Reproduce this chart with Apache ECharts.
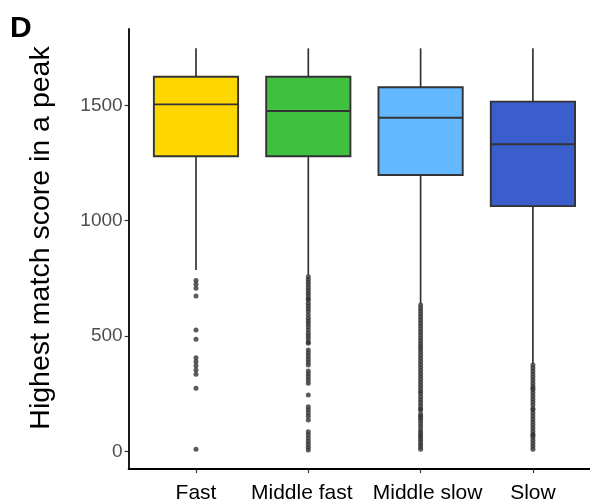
<!DOCTYPE html>
<html>
<head>
<meta charset="utf-8">
<script src="https://cdn.jsdelivr.net/npm/echarts@6/dist/echarts.min.js"></script>
<style>
  html, body { margin: 0; padding: 0; background: #fff; }
  #chart { width: 590px; height: 504px; }
</style>
</head>
<body>
<div id="chart"></div>
<script>
// ---- data ----
const categories = ['Fast', 'Middle fast', 'Middle slow', 'Slow'];
const boxColors = ['#FFD700', '#3FC13F', '#63B8FF', '#3A5FCD'];
// [min whisker, Q1, median, Q3, max whisker]
const fastStats = [786, 1279, 1504, 1624, 1747];
const middleFastStats = [764, 1279, 1475, 1624, 1747];
const middleSlowStats = [641, 1198, 1446, 1578, 1747];
const slowStats = [381, 1063, 1331, 1516, 1747];

const fastOutliers = [740, 724, 707, 673, 526, 486, 406, 388, 371, 352, 334, 273, 9];
const middleFastOutliers = [757, 745, 733, 721, 709, 697, 685, 673, 661, 656, 642, 630, 618, 606, 591,
  577, 565, 553, 540, 526, 512, 500, 488, 474, 468, 439, 426, 413, 400, 387, 374,
  348, 335, 322, 309, 295, 244, 193, 180, 166, 152, 136, 85, 72, 58, 44, 31, 18, 6];
const middleSlowOutliers = [634, 621, 608, 595, 582, 569, 556, 543, 530, 517, 504, 491, 478, 465, 453,
  442, 429, 416, 403, 390, 377, 364, 351, 338, 325, 312, 299, 286, 273, 260, 251,
  237, 224, 211, 198, 185, 179, 162, 152, 143, 133, 120, 106, 92, 81, 72, 63, 53, 42, 31, 20, 9];
const slowOutliers = [374, 361, 348, 335, 322, 309, 296, 283, 273, 266, 253, 240, 227, 214, 201, 186,
  179, 166, 153, 140, 127, 114, 101, 88, 75, 71, 61, 48, 35, 22, 9];

const yTicks = [0, 500, 1000, 1500];
const xTicks = [1, 2, 3, 4];

// ---- build ----
const allStats = [fastStats, middleFastStats, middleSlowStats, slowStats];
const allOutliers = [fastOutliers, middleFastOutliers, middleSlowOutliers, slowOutliers];
const boxData = allStats.map((s, i) => [i + 1].concat(s));
const outlierData = [];
allOutliers.forEach((arr, i) => arr.forEach(v => outlierData.push([i + 1, v])));

const FONT = 'Liberation Sans, Arial, Helvetica, sans-serif';
const BOX_W = 0.75;
const EDGE = '#333333';
// per-label rich style keys (label nudges as in the reference)
const labelStyleKeys = ['c', 'l', 'r', 'c'];

function renderBox(params, api) {
  const x = api.value(0);
  const pMin = api.coord([x, api.value(1)]);
  const pQ1 = api.coord([x, api.value(2)]);
  const pMed = api.coord([x, api.value(3)]);
  const pQ3 = api.coord([x, api.value(4)]);
  const pMax = api.coord([x, api.value(5)]);
  const hw = api.size([BOX_W, 0])[0] / 2;
  const lineStyle = { stroke: EDGE, lineWidth: 1.7 };
  return {
    type: 'group',
    children: [
      { type: 'line', shape: { x1: pMin[0], y1: pMin[1], x2: pQ1[0], y2: pQ1[1] }, style: lineStyle },
      { type: 'line', shape: { x1: pQ3[0], y1: pQ3[1], x2: pMax[0], y2: pMax[1] }, style: lineStyle },
      { type: 'rect', shape: { x: pQ3[0] - hw, y: pQ3[1], width: hw * 2, height: pQ1[1] - pQ3[1] },
        style: { fill: boxColors[params.dataIndex], stroke: EDGE, lineWidth: 1.9 } },
      { type: 'line', shape: { x1: pMed[0] - hw, y1: pMed[1], x2: pMed[0] + hw, y2: pMed[1] }, style: { stroke: EDGE, lineWidth: 1.9 } }
    ]
  };
}

const labelBase = { color: '#000', fontFamily: FONT, fontSize: 21 };
const chart = echarts.init(document.getElementById('chart'), null, { renderer: 'canvas' });
chart.setOption({
  animation: false,
  backgroundColor: '#ffffff',
  title: {
    text: 'D', left: 5, top: 9,
    textStyle: { fontFamily: FONT, fontSize: 30, fontWeight: 'bold', color: '#000' }
  },
  grid: { left: 128.6, top: 29, width: 471.7, height: 440, outerBoundsMode: 'none', containLabel: false },
  xAxis: {
    type: 'value', min: 0.4, max: 4.6,
    splitLine: { show: false },
    axisLine: { show: true, onZero: false, lineStyle: { color: '#000', width: 1.8 } },
    axisTick: { show: true, customValues: xTicks, length: 4, lineStyle: { color: '#333', width: 1.2 } },
    axisLabel: {
      customValues: xTicks, margin: 14, color: '#000', fontFamily: FONT, fontSize: 21,
      formatter: v => {
        const i = Math.round(v) - 1;
        return categories[i] ? '{' + labelStyleKeys[i] + '|' + categories[i] + '}' : '';
      },
      rich: {
        c: Object.assign({}, labelBase),
        l: Object.assign({ padding: [0, 13, 0, 0] }, labelBase),
        r: Object.assign({ padding: [0, 0, 0, 14] }, labelBase)
      }
    }
  },
  yAxis: {
    type: 'value', min: -76.7, max: 1830.8,
    splitLine: { show: false },
    axisLine: { show: true, onZero: false, lineStyle: { color: '#000', width: 1.8 } },
    axisTick: { show: true, customValues: yTicks, length: 4, lineStyle: { color: '#333', width: 1.2 } },
    axisLabel: { customValues: yTicks, margin: 6, color: '#4d4d4d', fontFamily: FONT, fontSize: 19,
      formatter: v => String(v) },
    name: 'Highest match score in a peak',
    nameLocation: 'middle', nameRotate: 90, nameGap: 73,
    nameTextStyle: { fontFamily: FONT, fontSize: 28.5, color: '#000', padding: [0, 0, 0, 22] }
  },
  series: [
    {
      type: 'custom', renderItem: renderBox, data: boxData,
      encode: { x: 0, y: [1, 2, 3, 4, 5] }, clip: false
    },
    {
      type: 'scatter', data: outlierData, symbol: 'circle', symbolSize: 5,
      itemStyle: { color: '#333333' }
    }
  ]
});
</script>
</body>
</html>
